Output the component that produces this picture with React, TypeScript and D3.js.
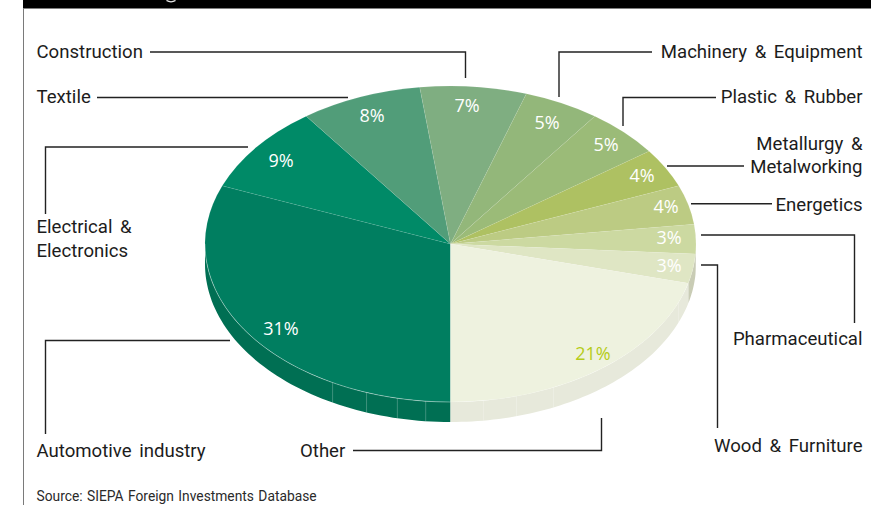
import React from "react";
import * as d3 from "d3";

// Investment share by sector, clockwise from the bottom of the pie.
const sectors = [
  "Automotive industry",
  "Electrical & Electronics",
  "Textile",
  "Construction",
  "Machinery & Equipment",
  "Plastic & Rubber",
  "Metallurgy & Metalworking",
  "Energetics",
  "Pharmaceutical",
  "Wood & Furniture",
  "Other",
];
const shares = [31, 9, 8, 7, 5, 5, 4, 4, 3, 3, 21];
const sliceColors = [
  "#007e60", "#008a67", "#519d79", "#7fae81", "#93b77a", "#9bbb78",
  "#aec162", "#bccb83", "#ccd9a1", "#dfe6c4", "#eef2df",
];
const rimColors = [
  "#006f53", "#006f53", "#519d79", "#7fae81", "#93b77a", "#9bbb78",
  "#aec162", "#bccb83", "#c9ccb5", "#c9ccb5", "#e7e9db",
];
const shareLabelColors = [
  "#ffffff", "#ffffff", "#ffffff", "#ffffff", "#ffffff", "#ffffff",
  "#ffffff", "#ffffff", "#ffffff", "#ffffff", "#b5cc18",
];
// Centres of the percentage labels.
const shareLabelSpots = [
  [281, 329], [281, 161], [372, 116], [467, 106], [547, 123], [606, 145],
  [642, 176], [666, 207], [669, 238], [669, 266], [593, 354],
];
// Angles, in degrees clockwise from north, of the seams on the pie's rim.
const rimSeams = [111.7, 155.2, 164.4, 172.3, 185.8, 192.5, 200, 208.7];

const W = 871;
const H = 505;
const CX = 450.5;
const CY = 244;
const RX = 245.5;
const RY = 158;
const DEPTH = 20;
const TAU = Math.PI * 2;

const labelFont = "Roboto, sans-serif";
const shareFont = "'Open Sans', sans-serif";

const xScale = d3.scaleLinear().domain([-1, 1]).range([CX - RX, CX + RX]);
const yScale = d3.scaleLinear().domain([-1, 1]).range([CY - RY, CY + RY]);

const pie = d3
  .pie<number>()
  .sort(null)
  .startAngle(Math.PI)
  .endAngle(Math.PI + TAU);
const arcs = pie(shares);
const arcPath = d3.arc<d3.PieArcDatum<number>>().innerRadius(0).outerRadius(RX);

const rimPoint = (a: number, drop = 0): [number, number] => [
  xScale(Math.sin(a)),
  yScale(-Math.cos(a)) + drop,
];

// Closed band on the pie's front wall between two angles.
const rimBand = (a0: number, a1: number) => {
  const n = 60;
  const angles = d3.range(n + 1).map((i) => a0 + ((a1 - a0) * i) / n);
  const pts = [
    ...angles.map((a) => rimPoint(a)),
    ...angles.slice().reverse().map((a) => rimPoint(a, DEPTH)),
  ];
  return d3.line()(pts) + "Z";
};

const rimEdge = (a0: number, a1: number) => {
  const n = 80;
  return d3.line()(
    d3.range(n + 1).map((i) => rimPoint(a0 + ((a1 - a0) * i) / n))
  )!;
};

// Clips a slice's angular span to the part of the wall facing the viewer.
const frontSpan = (start: number, end: number): [number, number] | null => {
  const a0 = Math.max(start, Math.PI / 2);
  const a1 = Math.min(end, (3 * Math.PI) / 2);
  return a1 > a0 ? [a0, a1] : null;
};

type Leader = { points: [number, number][] };
const leaders: Leader[] = [
  { points: [[150, 52], [465.5, 52], [465.5, 78]] },
  { points: [[97, 97.5], [348, 97.5]] },
  { points: [[45.5, 214], [45.5, 147], [248, 147]] },
  { points: [[45.5, 434], [45.5, 340.5], [230, 340.5]] },
  { points: [[652, 52], [559, 52], [559, 97]] },
  { points: [[716, 97.5], [623, 97.5], [623, 126]] },
  { points: [[667, 166], [744, 166]] },
  { points: [[691, 203.7], [772, 203.7]] },
  { points: [[701, 235], [854.5, 235], [854.5, 323]] },
  { points: [[701, 265], [717.5, 265], [717.5, 428]] },
  { points: [[353, 450.5], [601.5, 450.5], [601.5, 418]] },
];

type Caption = { text: string; x: number; y: number; anchor: "start" | "end" };
const captions: Caption[] = [
  { text: "Construction", x: 36.5, y: 58, anchor: "start" },
  { text: "Textile", x: 36.5, y: 103, anchor: "start" },
  { text: "Electrical &", x: 36.5, y: 233, anchor: "start" },
  { text: "Electronics", x: 36.5, y: 257, anchor: "start" },
  { text: "Automotive industry", x: 36.5, y: 457, anchor: "start" },
  { text: "Other", x: 300, y: 457, anchor: "start" },
  { text: "Machinery & Equipment", x: 862.5, y: 58, anchor: "end" },
  { text: "Plastic & Rubber", x: 862.5, y: 103, anchor: "end" },
  { text: "Metallurgy &", x: 862.5, y: 150, anchor: "end" },
  { text: "Metalworking", x: 862.5, y: 173, anchor: "end" },
  { text: "Energetics", x: 862.5, y: 211, anchor: "end" },
  { text: "Pharmaceutical", x: 862.5, y: 345, anchor: "end" },
  { text: "Wood & Furniture", x: 862.5, y: 452, anchor: "end" },
];

const leaderLine = d3.line();

export default function App() {
  return (
    <svg
      width={W}
      height={H}
      viewBox={`0 0 ${W} ${H}`}
      style={{ position: "absolute", left: 0, top: 0, background: "#fff" }}
    >
      <rect x={23} y={0} width={848} height={8.5} fill="#000" />
      <line x1={23.5} y1={8} x2={23.5} y2={H} stroke="#7a7a7a" strokeWidth={1} />
      {/* bottom of a descender from the title band above */}
      <path d="M166.5,0.5 Q171,3.2 175.5,0.5" fill="none" stroke="#e8e8e8" strokeWidth={1.4} />

      {/* front wall */}
      <g>
        {arcs.map((d, i) => {
          const span = frontSpan(d.startAngle, d.endAngle);
          const wrapped = frontSpan(d.startAngle - TAU, d.endAngle - TAU);
          return [span, wrapped].map((s, j) =>
            s ? <path key={`${i}-${j}`} d={rimBand(s[0], s[1])} fill={rimColors[i]} /> : null
          );
        })}
        {rimSeams.map((deg) => {
          const a = (deg * Math.PI) / 180;
          const [x, y] = rimPoint(a);
          return (
            <line
              key={deg}
              x1={x}
              y1={y}
              x2={x}
              y2={y + DEPTH}
              stroke="#ffffff"
              strokeOpacity={0.3}
              strokeWidth={0.8}
            />
          );
        })}
      </g>

      {/* top face */}
      <g transform={`translate(${CX},${CY}) scale(1,${RY / RX})`}>
        {arcs.map((d, i) => (
          <path
            key={sectors[i]}
            d={arcPath(d)!}
            fill={sliceColors[i]}
            stroke="#ffffff"
            strokeOpacity={0.18}
            strokeWidth={0.5}
          />
        ))}
      </g>
      <path
        d={rimEdge(Math.PI, (3 * Math.PI) / 2)}
        fill="none"
        stroke="#ffffff"
        strokeOpacity={0.45}
        strokeWidth={0.7}
      />

      {arcs.map((d, i) => (
        <text
          key={sectors[i]}
          x={shareLabelSpots[i][0]}
          y={shareLabelSpots[i][1]}
          dy="0.36em"
          textAnchor="middle"
          fontFamily={shareFont}
          fontSize={18}
          fill={shareLabelColors[i]}
        >
          {`${d.data}%`}
        </text>
      ))}

      {leaders.map((l, i) => (
        <path
          key={i}
          d={leaderLine(l.points)!}
          fill="none"
          stroke="#222"
          strokeWidth={1.4}
        />
      ))}

      {captions.map((c) => (
        <text
          key={c.text}
          x={c.x}
          y={c.y}
          textAnchor={c.anchor}
          fontFamily={labelFont}
          fontSize={18.6}
          wordSpacing={3}
          fill="#1c1c1c"
        >
          {c.text}
        </text>
      ))}

      <text x={36.5} y={501} fontFamily={labelFont} fontSize={13.8} wordSpacing={1} fill="#2a2a2a">
        Source: SIEPA Foreign Investments Database
      </text>
    </svg>
  );
}
